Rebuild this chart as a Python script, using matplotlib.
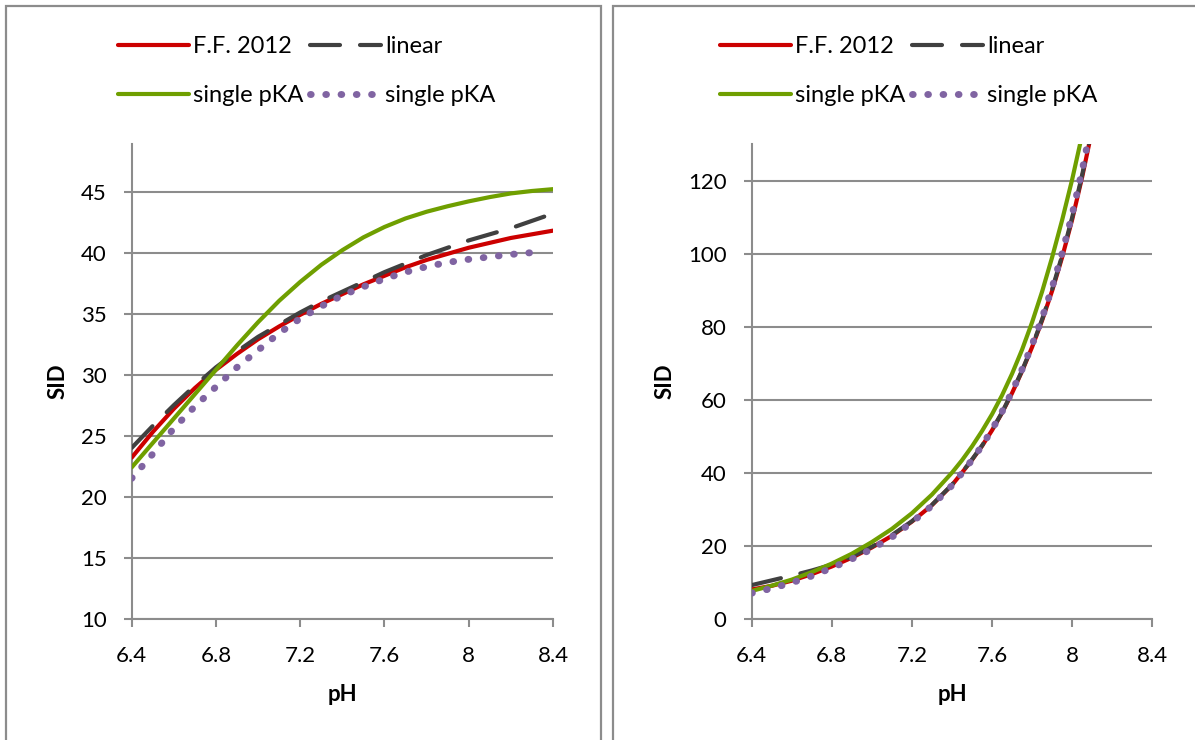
import matplotlib
matplotlib.use("Agg")
import matplotlib.pyplot as plt
from matplotlib.patches import Rectangle

plt.rcParams['font.family'] = ['Lato', 'DejaVu Sans']

# ---- data: left panel (SID vs pH) ----
ph_left = [6.4, 6.5, 6.6, 6.7, 6.8, 6.9, 7.0, 7.1, 7.2, 7.3, 7.4,
           7.5, 7.6, 7.7, 7.8, 7.9, 8.0, 8.1, 8.2, 8.3, 8.4]
ff2012_left = [23.2, 25.3, 27.2, 28.9, 30.4, 31.7, 32.9, 33.95, 34.9, 35.8, 36.6,
               37.4, 38.1, 38.8, 39.4, 39.9, 40.4, 40.8, 41.2, 41.5, 41.8]
linear_left = [24.0, 25.8, 27.5, 29.1, 30.6, 31.9, 33.1, 34.1, 35.1, 36.0, 36.8,
               37.6, 38.4, 39.1, 39.8, 40.4, 41.0, 41.5, 42.0, 42.6, 43.2]
pka_left = [22.4, 24.4, 26.4, 28.4, 30.4, 32.4, 34.3, 36.05, 37.6, 39.0, 40.2,
            41.25, 42.1, 42.8, 43.35, 43.8, 44.2, 44.55, 44.85, 45.05, 45.2]
ph_left_dot = [6.4, 6.5, 6.6, 6.7, 6.8, 6.9, 7.0, 7.1, 7.2, 7.3, 7.4,
               7.5, 7.6, 7.7, 7.8, 7.9, 8.0, 8.1, 8.2, 8.3, 8.34]
pka2_left = [21.5, 23.5, 25.6, 27.4, 29.0, 30.6, 32.0, 33.4, 34.6, 35.6, 36.5,
             37.2, 37.85, 38.4, 38.85, 39.2, 39.45, 39.65, 39.85, 40.0, 40.05]

# ---- data: right panel ----
ph_right = [6.4, 6.5, 6.6, 6.7, 6.8, 6.9, 7.0, 7.1, 7.2, 7.3, 7.4,
            7.45, 7.5, 7.55, 7.6, 7.65, 7.7, 7.75, 7.8, 7.85, 7.9,
            7.95, 8.0, 8.05, 8.1]
ff2012_right = [8.0, 9.0, 10.4, 12.2, 14.3, 16.7, 19.5, 22.7, 26.6, 31.1, 36.6,
                40.0, 43.5, 47.3, 51.6, 56.4, 61.8, 67.8, 74.4, 81.7, 89.8,
                99.0, 109.3, 121.0, 134.0]
linear_right = [9.2, 10.5, 11.8, 13.2, 14.8, 17.0, 19.7, 22.9, 26.7, 31.2, 36.7,
                40.1, 43.6, 47.4, 51.7, 56.5, 62.0, 68.0, 74.6, 82.0, 90.2,
                99.5, 109.9, 121.6, 134.6]
pka_right = [7.6, 9.05, 10.7, 12.75, 15.1, 17.8, 21.0, 24.6, 28.9, 34.0, 40.0,
             43.4, 47.2, 51.4, 56.0, 61.2, 67.1, 73.7, 81.2, 89.6, 99.0,
             109.2, 120.3, 132.6, 146.0]
pka2_right = [7.0, 8.3, 9.85, 11.7, 13.9, 16.35, 19.1, 22.35, 26.4, 30.95, 36.5,
              39.9, 43.5, 47.4, 51.8, 56.7, 62.2, 68.3, 75.0, 82.4, 90.7,
              100.1, 110.7, 122.8, 136.5]

labels = ['F.F. 2012', 'linear', 'single pKA', 'single pKA']
xticks = [6.4, 6.8, 7.2, 7.6, 8, 8.4]
xticklabels = ['6.4', '6.8', '7.2', '7.6', '8', '8.4']

RED = '#cc0000'
DARK = '#404040'
GREEN = '#6f9f00'
PURPLE = '#8064a2'
GRID = '#8c8c8c'

fig = plt.figure(figsize=(11.95, 7.4), dpi=100)

# panel frames
fig.patches.append(Rectangle((6 / 1195, -0.05), 595 / 1195, 1.05 - 6 / 740,
                             transform=fig.transFigure, fill=False,
                             edgecolor=GRID, linewidth=1.6))
fig.patches.append(Rectangle((613 / 1195, -0.05), 0.6, 1.05 - 6 / 740,
                             transform=fig.transFigure, fill=False,
                             edgecolor=GRID, linewidth=1.6))

ax1 = fig.add_axes([131.7 / 1195, 1 - 618.7 / 740, 421.3 / 1195, 474.7 / 740])
ax2 = fig.add_axes([751.7 / 1195, 1 - 618.7 / 740, 400.6 / 1195, 474.7 / 740])


def draw(ax, ph, ff, lin, pka, ph_dot, pka2, ylim, yticks, legend_x):
    h1, = ax.plot(ph, ff, color=RED, lw=3, solid_capstyle='round', zorder=3)
    h2, = ax.plot(ph, lin, color=DARK, lw=3, dash_capstyle='round',
                  dashes=(7.2, 4.8), zorder=4)
    h3, = ax.plot(ph, pka, color=GREEN, lw=3, solid_capstyle='round', zorder=5)
    h4, = ax.plot(ph_dot, pka2, color=PURPLE, lw=5, dash_capstyle='round',
                  dashes=(0.1, 2.1), zorder=6)
    ax.set_xlim(6.4, 8.4)
    ax.set_ylim(*ylim)
    ax.set_xticks(xticks)
    ax.set_xticklabels(xticklabels)
    ax.set_yticks(yticks)
    ax.yaxis.grid(True, color=GRID, lw=1.5)
    ax.set_axisbelow(True)
    for s in ['top', 'right']:
        ax.spines[s].set_visible(False)
    for s in ['left', 'bottom']:
        ax.spines[s].set_color(GRID)
        ax.spines[s].set_linewidth(1.5)
    ax.tick_params(axis='both', colors=GRID, labelcolor='black', labelsize=16,
                   length=6, width=1.5, direction='out')
    ax.tick_params(axis='x', pad=13.5)
    ax.tick_params(axis='y', pad=12)
    ax.set_xlabel('pH', fontsize=16, fontweight='bold', labelpad=13)
    ax.set_ylabel('SID', fontsize=16, fontweight='bold', labelpad=9)
    fig.legend([h1, h3, h2, h4], [labels[0], labels[2], labels[1], labels[3]],
               ncol=2, loc='center', bbox_to_anchor=(legend_x, 1 - 71 / 740),
               frameon=False, fontsize=17, handlelength=3.0, handletextpad=0.17,
               columnspacing=0.3, labelspacing=1.2, borderpad=0)


draw(ax1, ph_left, ff2012_left, linear_left, pka_left, ph_left_dot, pka2_left,
     (10, 48.9), [10, 15, 20, 25, 30, 35, 40, 45], 306.5 / 1195)
draw(ax2, ph_right, ff2012_right, linear_right, pka_right, ph_right, pka2_right,
     (0, 130), [0, 20, 40, 60, 80, 100, 120], 908.5 / 1195)

fig.savefig('out.png', dpi=100)
